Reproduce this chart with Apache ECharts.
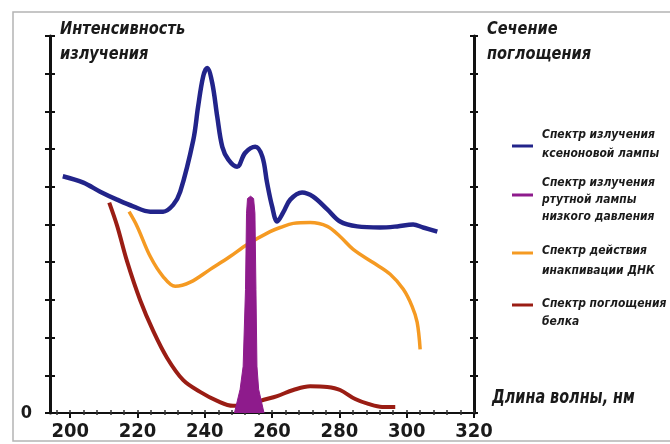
<!DOCTYPE html>
<html><head><meta charset="utf-8">
<script src="https://cdn.jsdelivr.net/npm/echarts@6/dist/echarts.min.js"></script>
<style>html,body{margin:0;padding:0;background:#fff}#c{width:670px;height:444px}</style>
</head><body><div id="c"></div>
<script>
// ---- data ----
var xTickValues = [200, 220, 240, 260, 280, 300, 320];
var xMinorTickValues = [196, 204, 208, 212, 216, 224, 228, 232, 236, 244, 248, 252, 256, 264, 268, 272, 276, 284, 288, 292, 296, 304, 308, 312, 316];

var xenonX = [197.8, 203.9, 208.9, 213.9, 218.7, 223.8, 227.6, 230.6, 232.7, 236.6, 238.0, 239.5, 240.7, 242.2, 243.7, 245.2, 247.0, 249.6, 252.0, 255.0, 257.1, 258.5, 260.0, 261.5, 263.3, 265.4, 268.9, 272.2, 276.4, 280.2, 285.3, 292.1, 297.2, 301.9, 304.9, 309.1];
var xenonY = [6.28, 6.11, 5.87, 5.66, 5.48, 5.34, 5.34, 5.52, 5.87, 7.25, 8.12, 8.92, 9.15, 8.76, 7.86, 7.06, 6.72, 6.53, 6.90, 7.06, 6.80, 6.11, 5.48, 5.08, 5.32, 5.66, 5.85, 5.74, 5.40, 5.08, 4.95, 4.92, 4.95, 5.00, 4.92, 4.81];

var mercuryX = [248.8, 250.5, 251.4, 252.1, 252.4, 252.7, 253.6, 254.5, 254.9, 255.2, 255.5, 256.0, 257.6];
var mercuryY = [0, 0.63, 1.24, 3.28, 5.3, 5.69, 5.75, 5.69, 5.3, 3.28, 1.24, 0.63, 0];

var dnaX = [217.5, 219.9, 223.8, 227.6, 231.2, 235.7, 241.6, 247.5, 252.6, 259.4, 262.4, 266.3, 271.3, 276.4, 280.2, 284.1, 290.0, 295.1, 299.0, 301.6, 303.1, 304.0];
var dnaY = [5.34, 4.95, 4.15, 3.62, 3.36, 3.47, 3.81, 4.15, 4.47, 4.81, 4.92, 5.03, 5.05, 4.95, 4.68, 4.34, 3.99, 3.68, 3.28, 2.83, 2.41, 1.69];

var proteinX = [211.6, 214.0, 216.9, 220.8, 224.7, 228.8, 233.6, 238.6, 243.7, 248.4, 252.6, 256.5, 261.5, 266.3, 271.3, 276.4, 280.2, 284.7, 288.6, 292.7, 296.6];
var proteinY = [5.58, 4.95, 4.02, 2.99, 2.17, 1.46, 0.87, 0.56, 0.32, 0.19, 0.19, 0.32, 0.45, 0.61, 0.71, 0.69, 0.61, 0.37, 0.24, 0.16, 0.16];

var seriesNames = [
  'Спектр излучения\nксеноновой лампы',
  'Спектр излучения\nртутной лампы\nнизкого давления',
  'Спектр действия\nинакпивации ДНК',
  'Спектр поглощения\nбелка'
];
var leftTitle = 'Интенсивность\nизлучения';
var rightTitle = 'Сечение\nпоглощения';
var xTitle = 'Длина волны, нм';

function pairs(xs, ys) { return xs.map(function (x, i) { return [x, ys[i]]; }); }

var FONT = '"Liberation Sans Narrow", "DejaVu Sans Condensed", "Liberation Sans", sans-serif';
var TXT = '#1a1a1a';
var C_BLUE = '#22248a', C_PURPLE = '#8e1b8c', C_ORANGE = '#f59a22', C_RED = '#9a1d14';
var colors = [C_BLUE, C_PURPLE, C_ORANGE, C_RED];

var chart = echarts.init(document.getElementById('c'), null, { renderer: 'canvas' });

function yAx(pos, inside, showLabel, tickLen) {
  return {
    type: 'value', position: pos, min: 0, max: 10, interval: 1,
    axisLine: { show: !inside, lineStyle: { color: '#111', width: 3 } },
    axisTick: { show: true, inside: inside, length: tickLen, lineStyle: { color: '#111', width: 2 } },
    splitLine: { show: false },
    axisLabel: {
      show: showLabel, margin: 18, fontFamily: FONT, fontWeight: 'bold', fontSize: 18, color: TXT,
      padding: [0, 0, 7, 0],
      formatter: function (v) { return v === 0 ? '0' : ''; }
    }
  };
}

// hand-placed legend (lines + multi-line labels)
var legendLayout = [
  { lineY: 146, textY: 125.5, lh: 19 },
  { lineY: 195, textY: 174.5, lh: 17 },
  { lineY: 253, textY: 240.5, lh: 20 },
  { lineY: 305, textY: 295, lh: 18 }
];
var legendGraphics = [];
legendLayout.forEach(function (L, i) {
  legendGraphics.push({ type: 'line', shape: { x1: 512, y1: L.lineY, x2: 533, y2: L.lineY }, style: { stroke: colors[i], lineWidth: 3 }, silent: true });
  legendGraphics.push({ type: 'text', x: 542, y: L.textY, scaleX: 0.92, style: { text: seriesNames[i], font: 'italic bold 13px ' + FONT, lineHeight: L.lh, fill: TXT } });
});

chart.setOption({
  animation: false,
  backgroundColor: '#fff',
  grid: { left: 50, right: 196, top: 36, bottom: 31, containLabel: false },
  xAxis: [
    {
      type: 'value', min: 194, max: 320, position: 'bottom',
      axisLine: { show: true, onZero: false, lineStyle: { color: '#111', width: 2 } },
      axisTick: { show: true, length: 5, customValues: xTickValues, lineStyle: { color: '#111', width: 2 } },
      axisLabel: { show: true, customValues: xTickValues, margin: 9, fontFamily: FONT, fontWeight: 'bold', fontSize: 20, color: TXT },
      splitLine: { show: false }
    },
    {
      type: 'value', min: 194, max: 320, position: 'bottom',
      axisLine: { show: false, onZero: false },
      axisTick: { show: true, inside: true, length: 3, customValues: xMinorTickValues.concat(xTickValues), lineStyle: { color: '#333', width: 1.5 } },
      axisLabel: { show: false },
      splitLine: { show: false }
    },
    {
      type: 'value', min: 194, max: 320, position: 'bottom',
      axisLine: { show: false, onZero: false },
      axisTick: { show: true, inside: false, length: 2, customValues: xMinorTickValues, lineStyle: { color: '#333', width: 1.5 } },
      axisLabel: { show: false },
      splitLine: { show: false }
    }
  ],
  yAxis: [
    yAx('left', false, true, 5),
    yAx('right', false, false, 4),
    yAx('left', true, false, 5),
    yAx('right', true, false, 4)
  ],
  graphic: [
    { type: 'rect', shape: { x: 13, y: 12, width: 700, height: 429 }, style: { fill: 'none', stroke: '#b4b4b4', lineWidth: 1.5 }, silent: true, z: -10 },
    { type: 'text', x: 60, y: 17, scaleX: 0.9, style: { text: leftTitle, font: 'italic bold 18px ' + FONT, lineHeight: 25, fill: TXT } },
    { type: 'text', x: 487, y: 17, scaleX: 0.9, style: { text: rightTitle, font: 'italic bold 18px ' + FONT, lineHeight: 25, fill: TXT } },
    { type: 'text', x: 492, y: 388, scaleX: 0.8, style: { text: xTitle, font: 'italic bold 20px ' + FONT, fill: TXT } }
  ].concat(legendGraphics),
  series: [
    { name: seriesNames[0], type: 'line', xAxisIndex: 0, yAxisIndex: 0, data: pairs(xenonX, xenonY), smooth: 0.35, showSymbol: false, color: C_BLUE, lineStyle: { width: 4.5, color: C_BLUE }, z: 3 },
    { name: seriesNames[2], type: 'line', xAxisIndex: 0, yAxisIndex: 1, data: pairs(dnaX, dnaY), smooth: 0.35, showSymbol: false, color: C_ORANGE, lineStyle: { width: 3.5, color: C_ORANGE }, z: 3 },
    { name: seriesNames[3], type: 'line', xAxisIndex: 0, yAxisIndex: 1, data: pairs(proteinX, proteinY), smooth: 0.35, showSymbol: false, color: C_RED, lineStyle: { width: 4, color: C_RED }, z: 3 },
    { name: seriesNames[1], type: 'line', xAxisIndex: 0, yAxisIndex: 0, data: pairs(mercuryX, mercuryY), smooth: false, showSymbol: false, color: C_PURPLE, lineStyle: { width: 1, color: C_PURPLE }, areaStyle: { color: C_PURPLE, opacity: 1 }, z: 4 }
  ]
});
</script></body></html>
